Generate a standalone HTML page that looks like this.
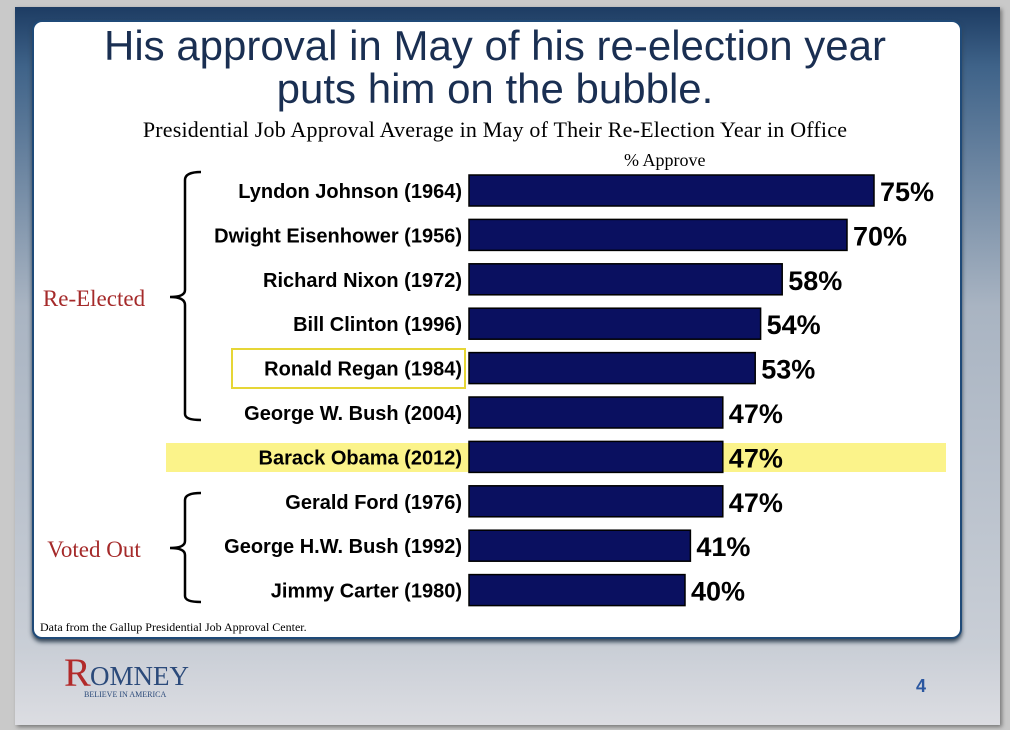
<!DOCTYPE html>
<html><head><meta charset="utf-8">
<style>
body{margin:0;width:1010px;height:730px;background:#c9c9c9;overflow:hidden;font-family:"Liberation Sans",sans-serif;position:relative}
#slide{position:absolute;left:15px;top:7px;width:985px;height:718px;background:linear-gradient(#1d3c63 0px,#3f6389 60px,#a9b4c2 300px,#c9ced6 640px,#dcdde2 718px);box-shadow:2px 2px 4px #777}
#card{position:absolute;left:32px;top:20px;width:926px;height:615px;background:#fff;border:2px solid #1f4a78;border-radius:10px;box-shadow:0 3px 4px #345}
.t{position:absolute;white-space:nowrap}
</style></head><body>
<div id="slide"></div>
<div id="card"></div>
<div class="t" style="left:32px;width:926px;top:24px;text-align:center;font-size:42px;line-height:43px;color:#1a2f52">His approval in May of his re-election year<br>puts him on the bubble.</div>
<div class="t" style="left:32px;width:926px;top:117px;text-align:center;font-family:'Liberation Serif',serif;font-size:22px;letter-spacing:0.2px">Presidential Job Approval Average in May of Their Re-Election Year in Office</div>
<div class="t" style="left:624px;top:150px;font-family:'Liberation Serif',serif;font-size:18px">% Approve</div>
<div class="t" style="left:166px;top:443px;width:780px;height:29px;background:#fbf38a"></div>
<div class="t" style="left:231px;top:348px;width:231px;height:37px;border:2px solid #e6d636"></div>
<svg width="1010" height="730" style="position:absolute;left:0;top:0">
<g fill="none" stroke="#000" stroke-width="2.5">
<path d="M201 172 Q185 172 185 180 L185 290 Q185 297 170 297 Q185 297 185 305 L185 414 Q185 420 201 420"/>
<path d="M201 493 Q185 493 185 500 L185 541 Q185 548 170 548 Q185 548 185 555 L185 596 Q185 602 201 602"/>
</g>
<text x="94" y="306" text-anchor="middle" font-family="Liberation Serif,serif" font-size="23" fill="#a52a2a">Re-Elected</text>
<text x="94" y="557" text-anchor="middle" font-family="Liberation Serif,serif" font-size="23" fill="#a52a2a">Voted Out</text>
<g id="bars"></g>
<text x="40" y="631" font-family="Liberation Serif,serif" font-size="12">Data from the Gallup Presidential Job Approval Center.</text>
<text x="64" y="686" font-family="Liberation Serif,serif" font-size="40" fill="#b22a2a">R</text>
<text x="90" y="685" font-family="Liberation Serif,serif" font-size="27" fill="#2b4a7a">OMNEY</text>
<text x="84" y="697" font-family="Liberation Serif,serif" font-size="8" fill="#2b4a7a">BELIEVE IN AMERICA</text>
<text x="921" y="692" text-anchor="middle" font-size="18" font-weight="bold" fill="#2b57a0">4</text>
</svg>
<script>
const names=["Lyndon Johnson (1964)","Dwight Eisenhower (1956)","Richard Nixon (1972)","Bill Clinton (1996)","Ronald Regan (1984)","George W. Bush (2004)","Barack Obama (2012)","Gerald Ford (1976)","George H.W. Bush (1992)","Jimmy Carter (1980)"];
const values=[75,70,58,54,53,47,47,47,41,40];
const x0=469, pxPer=5.4, y0=175, step=44.4, bh=31;
const xs=v=>x0+v*pxPer, ys=i=>y0+i*step;
const g=document.getElementById('bars'),NS="http://www.w3.org/2000/svg";
names.forEach((n,i)=>{
 const r=document.createElementNS(NS,'rect');
 r.setAttribute('x',x0);r.setAttribute('y',ys(i));r.setAttribute('width',xs(values[i])-x0);r.setAttribute('height',bh);
 r.setAttribute('fill','#0a1060');r.setAttribute('stroke','#000');r.setAttribute('stroke-width','1.5');
 
 
 g.appendChild(r);
 const l=document.createElementNS(NS,'text');
 l.setAttribute('x',462);l.setAttribute('y',ys(i)+23);l.setAttribute('text-anchor','end');
 l.setAttribute('font-size','20');l.setAttribute('font-weight','bold');l.textContent=n;
 
 
 g.appendChild(l);
 const v=document.createElementNS(NS,'text');
 v.setAttribute('x',xs(values[i])+6);v.setAttribute('y',ys(i)+26);
 v.setAttribute('font-size','27');v.setAttribute('font-weight','bold');v.textContent=values[i]+'%';
 
 
 g.appendChild(v);
});
</script>
</body></html>
